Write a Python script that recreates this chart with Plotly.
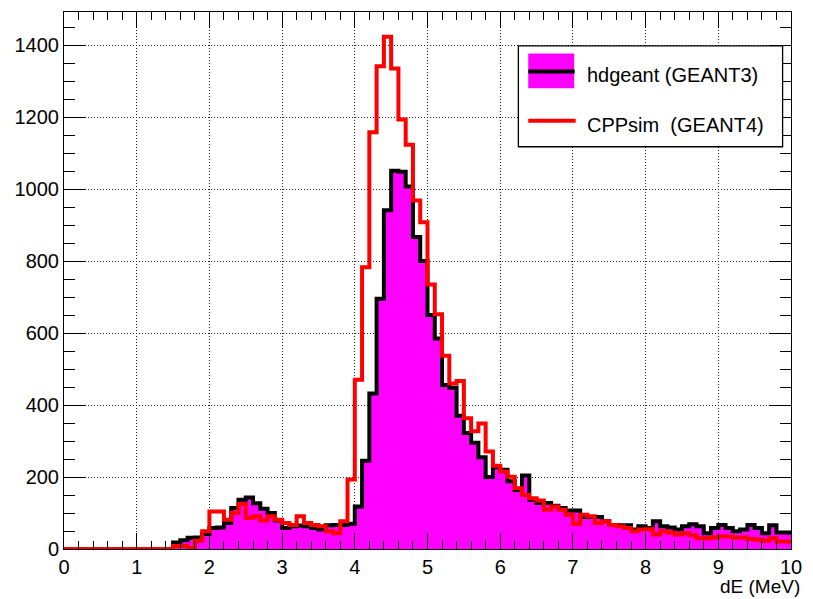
import plotly.graph_objects as go

# ---- data (100 bins of 0.1 MeV from 0 to 10) ----
BIN_WIDTH = 0.1
N_BINS = 100
X_MAX = 10.0

hdgeant = [
    0, 0, 0, 0, 0, 0, 0, 0, 0, 0,            # 0.0-0.9
    0, 0, 0, 0, 0, 18, 24, 31, 32, 42,       # 1.0-1.9
    58, 60, 72, 114, 137, 143, 127, 112, 100, 79,   # 2.0-2.9
    58, 63, 65, 63, 58, 54, 66, 67, 67, 70,  # 3.0-3.9
    118, 245, 432, 695, 941, 1051, 1048, 1007, 867, 800,  # 4.0-4.9
    650, 585, 456, 448, 370, 322, 295, 255, 200, 227,     # 5.0-5.9
    220, 188, 164, 204, 137, 128, 128, 120, 114, 107,     # 6.0-6.9
    107, 89, 89, 89, 77, 67, 66, 66, 54, 63,              # 7.0-7.9
    58, 77, 63, 60, 54, 63, 69, 63, 44, 58,               # 8.0-8.9
    67, 58, 49, 54, 67, 58, 44, 66, 46, 46,               # 9.0-9.9
]

cppsim = [
    0, 0, 0, 0, 0, 0, 0, 0, 0, 0,            # 0.0-0.9
    0, 0, 0, 0, 0, 8, 8, 2, 23, 49,          # 1.0-1.9
    104, 104, 81, 100, 125, 86, 91, 79, 91, 81,   # 2.0-2.9
    72, 67, 91, 72, 67, 63, 49, 44, 77, 193,      # 3.0-3.9
    470, 783, 1158, 1341, 1423, 1335, 1193, 1123, 968, 908,   # 4.0-4.9
    735, 652, 537, 460, 467, 363, 327, 349, 271, 231,         # 5.0-5.9
    215, 201, 169, 150, 141, 135, 109, 118, 109, 95,          # 6.0-6.9
    70, 95, 91, 72, 77, 67, 63, 58, 49, 54,                   # 7.0-7.9
    55, 40, 49, 46, 40, 44, 38, 30, 30, 32,                   # 8.0-8.9
    35, 35, 32, 32, 28, 26, 23, 30, 21, 21,                   # 9.0-9.9
]

series_names = ["hdgeant (GEANT3)", "CPPsim\u00a0 (GEANT4)"]
x_tick_vals = list(range(0, 11))
y_tick_vals = list(range(0, 1401, 200))
Y_MAX = 1492
x_title = "dE (MeV)"

# bin edges for step drawing
edges = [round(i * BIN_WIDTH, 1) for i in range(N_BINS)] + [X_MAX]


def step_y(vals):
    return list(vals) + [vals[-1]]


FONT = "Liberation Sans, Arial, Helvetica, sans-serif"
MAGENTA = "#ff00ff"

fig = go.Figure()

fig.add_trace(go.Scatter(
    x=edges, y=step_y(hdgeant), mode="lines", line_shape="hv",
    line=dict(color="black", width=4), fill="tozeroy", fillcolor=MAGENTA,
    name=series_names[0], showlegend=False, hoverinfo="skip",
))
fig.add_trace(go.Scatter(
    x=edges, y=step_y(cppsim), mode="lines", line_shape="hv",
    line=dict(color="#ff0000", width=4),
    name=series_names[1], showlegend=False, hoverinfo="skip",
))

W, H = 813, 599
ML, MR, MT, MB = 64, 13, 11, 50
PW = W - ML - MR
PH = H - MT - MB


def px_x(px):
    return (px - ML) / PW


def px_y(py):
    return (H - MB - py) / PH


axis_common = dict(
    showline=True, linecolor="black", linewidth=1, mirror="allticks",
    ticks="inside", tickcolor="black", tickwidth=1,
    showgrid=True, gridcolor="#222222", gridwidth=1, griddash="1px,2px",
    zeroline=False,
    tickfont=dict(family=FONT, size=20, color="black"),
)

fig.update_xaxes(
    range=[0, X_MAX], tickmode="array", tickvals=x_tick_vals,
    ticktext=[str(v) for v in x_tick_vals], ticklen=16,
    minor=dict(dtick=0.2, tick0=0, ticklen=8, ticks="inside", tickcolor="black", showgrid=False),
    **axis_common,
)
fig.update_yaxes(
    range=[0, Y_MAX], tickmode="array", tickvals=y_tick_vals,
    ticktext=[str(v) for v in y_tick_vals], ticklen=22,
    minor=dict(dtick=50, tick0=0, ticklen=11, ticks="inside", tickcolor="black", showgrid=False),
    **axis_common,
)

# custom ROOT-style legend
shapes = [
    dict(type="rect", xref="paper", yref="paper", layer="above",
         x0=px_x(524), x1=px_x(791.5), y0=px_y(146), y1=px_y(45),
         fillcolor="white", line=dict(color="black", width=1.3)),
    dict(type="rect", xref="paper", yref="paper", layer="above",
         x0=px_x(534), x1=px_x(580.5), y0=px_y(87.5), y1=px_y(52.5),
         fillcolor=MAGENTA, line=dict(width=0)),
    dict(type="line", xref="paper", yref="paper", layer="above",
         x0=px_x(534), x1=px_x(581), y0=px_y(70.5), y1=px_y(70.5),
         line=dict(color="black", width=4)),
    dict(type="line", xref="paper", yref="paper", layer="above",
         x0=px_x(534), x1=px_x(582), y0=px_y(120), y1=px_y(120),
         line=dict(color="#ff0000", width=4)),
]

annotations = [
    dict(text=series_names[0], xref="paper", yref="paper", x=px_x(591), y=px_y(74),
         xanchor="left", yanchor="middle", showarrow=False,
         font=dict(family=FONT, size=20, color="black")),
    dict(text=series_names[1], xref="paper", yref="paper", x=px_x(591), y=px_y(124),
         xanchor="left", yanchor="middle", showarrow=False,
         font=dict(family=FONT, size=20, color="black")),
    dict(text=x_title, xref="paper", yref="paper", x=px_x(811.5), y=px_y(587),
         xanchor="right", yanchor="middle", showarrow=False,
         font=dict(family=FONT, size=19, color="black")),
]

fig.update_layout(
    width=W, height=H,
    margin=dict(l=ML, r=MR, t=MT, b=MB, pad=0),
    paper_bgcolor="white", plot_bgcolor="white",
    showlegend=False,
    shapes=shapes, annotations=annotations,
    font=dict(family=FONT, size=20, color="black"),
)

fig.write_html(
    "out.html",
    config={"displayModeBar": False},
    post_script="document.body.style.margin='0';document.body.style.overflow='hidden';",
)
